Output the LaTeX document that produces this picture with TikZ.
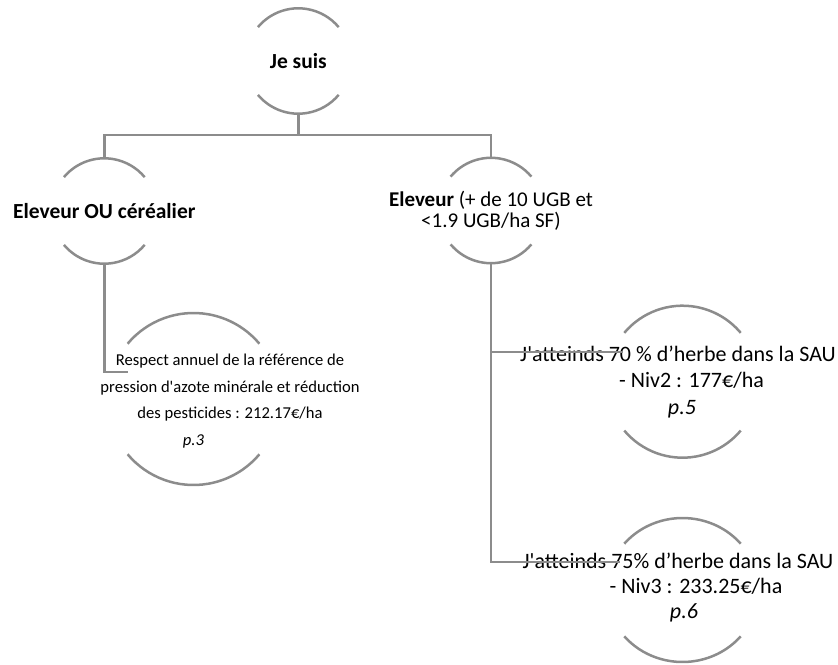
\documentclass[tikz,border=0pt]{standalone}
\usepackage{fontspec}
\setmainfont{Carlito}
\definecolor{linegray}{RGB}{140,140,140}

% top and bottom arcs round a point
\newcommand{\halo}[3]{%
  \draw[ring] (#1) ++(140:#2 and #3) arc[start angle=140, end angle=40, x radius=#2, y radius=#3];
  \draw[ring] (#1) ++(220:#2 and #3) arc[start angle=220, end angle=320, x radius=#2, y radius=#3];}

\begin{document}
\begin{tikzpicture}[x=1pt, y=1pt,
                    ring/.style={draw=linegray, line width=2.5pt},
                    link/.style={draw=linegray, line width=2.5pt},
                    head/.style={inner sep=0pt, align=center,
                                 font=\fontsize{21.5}{21}\selectfont\bfseries},
                    item/.style={inner sep=0pt, align=center,
                                 font=\fontsize{22}{26.5}\selectfont}]

    \useasboundingbox (0,0) rectangle (838,-664);

    \node[head] (root) at (298.3,-61) {Je suis};
    \node[head] (farm) at (104.3,-211) {Eleveur OU céréalier};
    \node[head, font=\fontsize{21}{20.7}\selectfont] (breed) at (491,-210.5)
        {\textbf{Eleveur} (+ de 10 UGB et\\<1.9 UGB/ha SF)};

    \node[item, font=\fontsize{16.6}{26.7}\selectfont] (rule) at (230,-401)
        {Respect annuel de la référence de\\pression d\textquotesingle azote minérale et réduction\\des pesticides : 212.17€/ha\\\textit{p.3}\hspace*{73pt}};
    \node[item] (grass70) at (678,-381.7)
        {J\textquotesingle atteinds 70 \% d’herbe dans la SAU\\\hspace*{27pt}- Niv2 : 177€/ha\\\hspace*{8pt}\textit{p.5}};
    \node[item, font=\fontsize{22}{25}\selectfont] (grass75) at (678,-588)
        {J\textquotesingle atteinds 75\% d’herbe dans la SAU\\\hspace*{36pt}- Niv3 : 233.25€/ha\\\hspace*{12pt}\textit{p.6}};

    \halo{root.center}{52.7pt}{52.7pt}
    \halo{farm.center}{52.7pt}{52.7pt}
    \halo{breed.center}{52.7pt}{52.7pt}
    \halo{[xshift=-36.5pt,yshift=2pt]rule.center}{86pt}{86pt}
    \halo{[xshift=4.5pt]grass70.center}{76pt}{76pt}
    \halo{[xshift=4.5pt,yshift=-2pt]grass75.center}{76pt}{72pt}

    \coordinate (bar) at (0,-135);
    \coordinate (ruleIn) at (128,-372);
    \coordinate (g70In) at (623,-352);
    \coordinate (g75In) at (620,-562);

    \draw[link] ([yshift=-52.7pt]root.center) -- (root.center |- bar);
    \draw[link] ([yshift=52.7pt]farm.center) |- (bar -| root.center) -| ([yshift=52.7pt]breed.center);
    \draw[link] ([yshift=-52.7pt]farm.center) |- (ruleIn);
    \draw[link] ([yshift=-52.7pt]breed.center) |- (g75In);
    \draw[link] (breed.center |- g70In) -- (g70In);
\end{tikzpicture}
\end{document}
